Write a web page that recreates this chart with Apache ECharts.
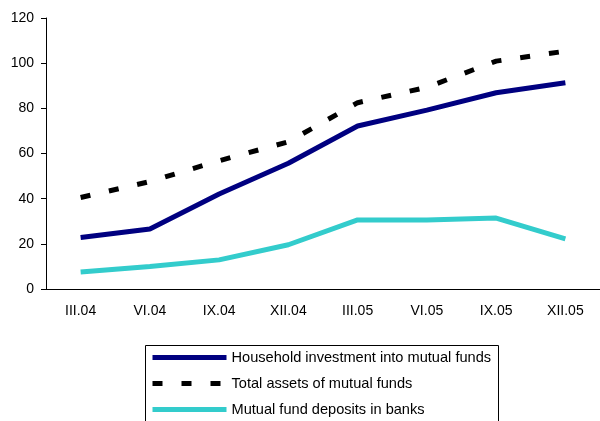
<!DOCTYPE html>
<html>
<head>
<meta charset="utf-8">
<script src="https://cdn.jsdelivr.net/npm/echarts@6/dist/echarts.min.js"></script>
<style>
  html, body { margin: 0; padding: 0; background: #fff; }
  #chart { width: 600px; height: 421px; }
</style>
</head>
<body>
<div id="chart"></div>
<script>
var quarters = ['III.04', 'VI.04', 'IX.04', 'XII.04', 'III.05', 'VI.05', 'IX.05', 'XII.05'];
var household = [22.8, 26.6, 42.1, 55.7, 72.2, 79.2, 86.9, 91.3];
var totalAssets = [40.5, 47.6, 56.8, 65.2, 82.5, 89.3, 100.9, 105.3];
var deposits = [7.5, 10.0, 12.9, 19.6, 30.6, 30.6, 31.4, 22.2];

var font = 'Liberation Sans, Arial, sans-serif';

var chart = echarts.init(document.getElementById('chart'));
chart.setOption({
  animation: false,
  textStyle: { fontFamily: font },
  grid: { left: 46, right: -2, top: 18, bottom: 132 },
  xAxis: {
    type: 'category',
    data: quarters,
    axisLine: { lineStyle: { color: '#000', width: 1 } },
    axisTick: { length: 5, lineStyle: { color: '#000' } },
    axisLabel: { color: '#000', fontSize: 14, margin: 15, fontFamily: font }
  },
  yAxis: {
    type: 'value',
    min: 0,
    max: 120,
    interval: 20,
    axisLine: { show: true, lineStyle: { color: '#000', width: 1 } },
    axisTick: { show: true, length: 5, lineStyle: { color: '#000' } },
    axisLabel: { color: '#000', fontSize: 14, margin: 12, fontFamily: font },
    splitLine: { show: false }
  },
  graphic: [{
    type: 'rect',
    shape: { x: 145.5, y: 345.5, width: 353, height: 100 },
    style: { fill: 'none', stroke: '#000', lineWidth: 1 },
    silent: true
  }],
  legend: {
    orient: 'vertical',
    left: 150,
    top: 350,
    height: 80,
    padding: 0,
    itemWidth: 74,
    itemHeight: 14,
    itemGap: 11,
    itemStyle: { opacity: 0 },
    lineStyle: { width: 5 },
    textStyle: { color: '#000', fontSize: 14.6, fontFamily: font },
    data: [
      'Household investment into mutual funds',
      'Total assets of mutual funds',
      'Mutual fund deposits in banks'
    ]
  },
  series: [
    {
      name: 'Household investment into mutual funds',
      type: 'line',
      data: household,
      symbol: 'none',
      color: '#000080',
      lineStyle: { color: '#000080', width: 5 }
    },
    {
      name: 'Total assets of mutual funds',
      type: 'line',
      data: totalAssets,
      symbol: 'none',
      color: '#000',
      lineStyle: { color: '#000', width: 5, type: [10, 19] }
    },
    {
      name: 'Mutual fund deposits in banks',
      type: 'line',
      data: deposits,
      symbol: 'none',
      color: '#33cccc',
      lineStyle: { color: '#33cccc', width: 5 }
    }
  ]
});
</script>
</body>
</html>
